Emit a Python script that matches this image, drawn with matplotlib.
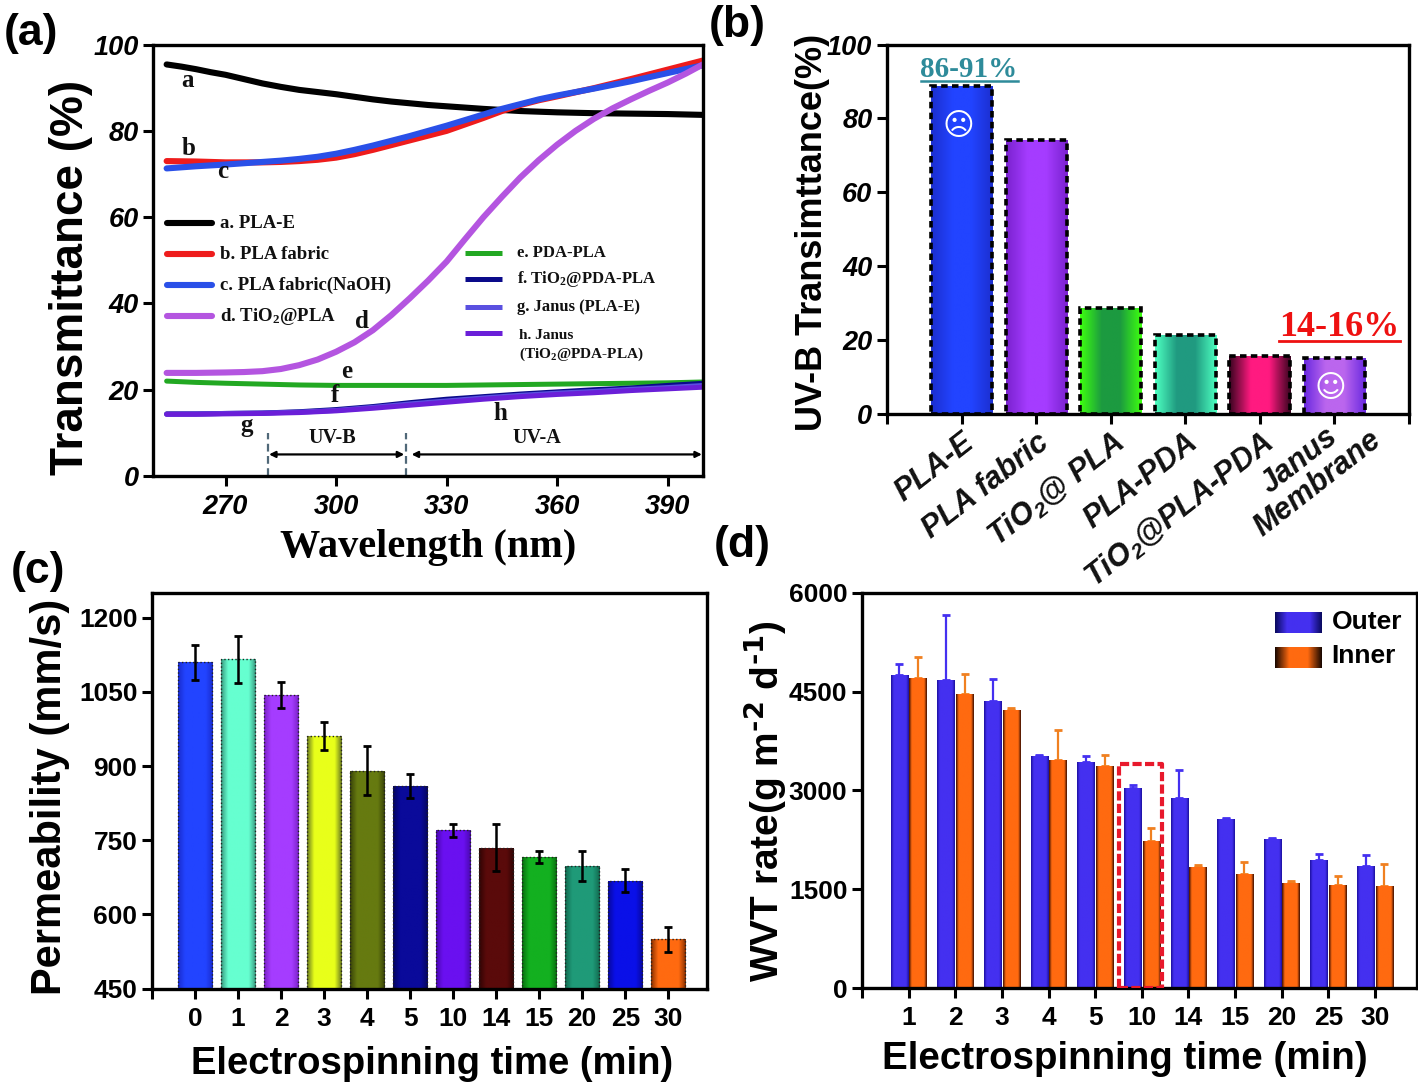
import numpy as np
import matplotlib
matplotlib.use("Agg")
import matplotlib.pyplot as plt
from matplotlib.colors import LinearSegmentedColormap
from matplotlib.transforms import ScaledTranslation

W, H = 1418, 1085

# panel a
wl = [254, 262, 270, 280, 290, 300, 310, 320, 330, 340, 350, 360, 370, 380, 390, 400]
wl_e = [254, 258, 262, 266, 270, 275, 280, 285, 290, 295, 300, 305, 310, 315, 320, 325, 330, 340, 350, 360, 370, 380, 390, 400]
pla_e = [95.4, 94.9, 94.3, 93.6, 93.0, 92.0, 91.0, 90.2, 89.5, 89.0, 88.5, 87.9, 87.3, 86.8, 86.4, 86.0, 85.7, 85.1, 84.6, 84.3, 84.1, 84.0, 83.9, 83.7]
wl_f = [254, 262, 270, 280, 285, 290, 295, 300, 305, 310, 315, 320, 325, 330, 335, 340, 345, 350, 355, 360, 370, 380, 390, 400]
pla_fabric = [73.0, 72.9, 72.7, 72.7, 72.8, 73.0, 73.3, 73.8, 74.6, 75.6, 76.7, 77.8, 78.9, 80.0, 81.5, 83.0, 84.6, 86.0, 87.1, 88.0, 89.9, 92.0, 94.2, 96.4]
pla_naoh = [71.3, 71.8, 72.2, 72.8, 73.1, 73.5, 74.0, 74.7, 75.6, 76.6, 77.7, 78.8, 80.0, 81.2, 82.5, 83.8, 85.1, 86.2, 87.3, 88.2, 89.8, 91.5, 93.4, 95.3]
wl_d = [254, 262, 270, 275, 280, 285, 290, 295, 300, 305, 310, 315, 320, 325, 330, 335, 340, 345, 350, 355, 360, 365, 370, 375, 380, 385, 390, 395, 400]
tio2_pla = [23.9, 23.9, 24.0, 24.1, 24.3, 24.8, 25.7, 27.0, 28.8, 31.0, 33.8, 37.3, 41.2, 45.3, 49.7, 54.9, 60.0, 64.7, 69.2, 73.2, 76.8, 80.0, 82.8, 85.2, 87.3, 89.3, 91.2, 93.3, 95.6]
pda_pla = [22.0, 21.7, 21.5, 21.3, 21.1, 21.0, 21.0, 21.0, 21.0, 21.1, 21.2, 21.3, 21.4, 21.5, 21.6, 21.8]
tio2_pda = [14.4, 14.4, 14.5, 14.6, 14.9, 15.4, 16.1, 17.0, 17.8, 18.4, 19.0, 19.5, 20.0, 20.4, 21.0, 21.5]
janus_e = [14.3, 14.4, 14.5, 14.6, 14.8, 15.2, 15.9, 16.7, 17.4, 18.1, 18.7, 19.2, 19.6, 20.1, 20.5, 21.0]
janus_h = [14.3, 14.3, 14.4, 14.5, 14.7, 15.1, 15.7, 16.4, 17.1, 17.8, 18.4, 18.9, 19.3, 19.8, 20.2, 20.6]

# panel b
b_labels = ["PLA-E", "PLA fabric", "TiO$_2$@ PLA", "PLA-PDA", "TiO$_2$@PLA-PDA", "Janus\nMembrane"]
b_values = [88.7, 74.2, 28.7, 21.4, 15.7, 15.2]
b_edge = ["#1c2fd0", "#7a22d0", "#3dff10", "#4dffc0", "#3a0420", "#6a2ae0"]
b_mid = ["#2244ff", "#a53cff", "#1c9a40", "#209a80", "#ff1a80", "#bb66ee"]

# panel c
c_labels = ["0", "1", "2", "3", "4", "5", "10", "14", "15", "20", "25", "30"]
c_values = [1110, 1116, 1044, 961, 891, 860, 770, 735, 716, 698, 668, 550]
c_err = [35, 48, 27, 29, 49, 25, 13, 48, 12, 31, 23, 25]
c_edge = ["#1a2cd0", "#3a9a80", "#7a22c8", "#6a7a20", "#3a4408", "#060660", "#4a08b0", "#300404", "#0a7010", "#126a50", "#0808a0", "#8a3000"]
c_mid = ["#2244ff", "#66ffd0", "#a53cff", "#e8ff1a", "#667a10", "#0a0a9a", "#6a10f0", "#5a0a0a", "#13b020", "#1f9a78", "#0a10e8", "#ff6a10"]

# panel d
d_labels = ["1", "2", "3", "4", "5", "10", "14", "15", "20", "25", "30"]
outer = [4749, 4677, 4361, 3528, 3436, 3033, 2880, 2563, 2267, 1945, 1848]
inner = [4703, 4463, 4223, 3462, 3375, 2226, 1833, 1731, 1593, 1568, 1552]
outer_err = [168, 990, 330, 15, 90, 50, 430, 15, 10, 85, 170]
inner_err = [320, 300, 25, 455, 160, 210, 30, 175, 25, 135, 335]

plt.rcParams["font.family"] = "Liberation Sans"
plt.rcParams["font.weight"] = "bold"
plt.rcParams["mathtext.default"] = "regular"

fig = plt.figure(figsize=(W / 100, H / 100), dpi=100)


def px_axes(left, top, right, bottom):
    ax = fig.add_axes([left / W, 1 - bottom / H, (right - left) / W, (bottom - top) / H])
    for s in ax.spines.values():
        s.set_linewidth(2.4)
    return ax


def px_text(x, y, s, **kw):
    kw.setdefault("ha", "center")
    kw.setdefault("va", "center")
    fig.text(x / W, 1 - y / H, s, **kw)


def grad_bar(ax, x, top, width, edge, mid, base=0, frac=0.2, **edge_kw):
    bar = ax.bar(x, top - base, width, bottom=base, color=mid, linewidth=0, zorder=2)[0]
    cmap = LinearSegmentedColormap.from_list("g", [(0, edge), (frac, mid), (1 - frac, mid), (1, edge)])
    im = ax.imshow(np.linspace(0, 1, 64).reshape(1, -1), extent=[x - width / 2, x + width / 2, base, top],
                   cmap=cmap, aspect="auto", zorder=2.1, interpolation="bilinear")
    im.set_clip_path(bar)
    if edge_kw:
        ax.bar(x, top - base, width, bottom=base, fill=False, zorder=2.2, **edge_kw)


# (a)
ax = px_axes(153, 44.6, 703, 476)
ax.plot(wl_e, pla_e, color="black", lw=4.4, solid_capstyle="round")
ax.plot(wl_f, pla_fabric, color="#ee1c1c", lw=4.4, solid_capstyle="round")
ax.plot(wl_f, pla_naoh, color="#2a50e8", lw=4.4, solid_capstyle="round")
ax.plot(wl_d, tio2_pla, color="#b455e0", lw=4.4, solid_capstyle="round")
ax.plot(wl, pda_pla, color="#22a822", lw=3.6, solid_capstyle="round")
ax.plot(wl, tio2_pda, color="#0a0a8a", lw=3.6, solid_capstyle="round")
ax.plot(wl, janus_e, color="#5a50e0", lw=3.6, solid_capstyle="round")
ax.plot(wl, janus_h, color="#6a1fd8", lw=3.6, solid_capstyle="round")
ax.set_xlim(250.3, 399.6)
ax.set_ylim(0, 100)
ax.set_xticks([270, 300, 330, 360, 390])
ax.set_yticks([0, 20, 40, 60, 80, 100])
ax.tick_params(length=7, width=2.2, pad=6)
ax.tick_params(axis="y", pad=3)
for t in ax.get_xticklabels():
    t.set(fontsize=19.5, style="italic", fontweight="bold")
for t in ax.get_yticklabels():
    t.set(fontsize=19.5, style="italic", fontweight="bold")

serif = dict(family="Liberation Serif", fontweight="bold", color="#111111")
for s, x, y in [("a", 259.8, 91.7), ("b", 260, 76), ("c", 269.3, 70.6), ("d", 307, 35.8),
                ("e", 303, 24.3), ("f", 299.7, 18.6), ("g", 275.6, 11.8), ("h", 344.7, 14.6)]:
    ax.text(x, y, s, fontsize=18, ha="center", va="center", **serif)

for s, c, y in [("a. PLA-E", "black", 58.6), ("b. PLA fabric", "#ee1c1c", 51.4),
                ("c. PLA fabric(NaOH)", "#2a50e8", 44.2), ("d. TiO$_2$@PLA", "#b455e0", 37.0)]:
    ax.plot([254, 266.3], [y, y], color=c, lw=4.4, solid_capstyle="round")
    ax.text(268.4, y, s, fontsize=13.5, va="center", **serif)
for s, c, y in [("e. PDA-PLA", "#22a822", 51.6), ("f. TiO$_2$@PDA-PLA", "#0a0a8a", 45.7),
                ("g. Janus (PLA-E)", "#5a50e0", 39.2)]:
    ax.plot([335, 345], [y, y], color=c, lw=3.6, solid_capstyle="butt")
    ax.text(349, y, s, fontsize=12, va="center", **serif)
ax.plot([335, 345], [33.2, 33.2], color="#6a1fd8", lw=3.6, solid_capstyle="butt")
ax.text(349.6, 32.5, "h. Janus", fontsize=11, va="center", **serif)
ax.text(349.6, 28.2, "(TiO$_2$@PDA-PLA)", fontsize=11, va="center", **serif)

for x in [281.6, 319]:
    ax.plot([x, x], [0, 10], color="#506878", lw=1.6, ls=(0, (3.5, 2)))
for x0, x1 in [(281.8, 318.5), (320.5, 399.3)]:
    ax.annotate("", xy=(x1, 5), xytext=(x0, 5), arrowprops=dict(arrowstyle="<|-|>", color="black", lw=1.6, mutation_scale=9, shrinkA=0, shrinkB=0))
ax.text(299, 8.7, "UV-B", fontsize=14.5, ha="center", va="center", **serif)
ax.text(354.5, 8.7, "UV-A", fontsize=14.5, ha="center", va="center", **serif)

px_text(71, 277, "Transmittance (%)", fontsize=33, rotation=90)
px_text(428, 548, "Wavelength (nm)", fontsize=29, family="Liberation Serif", fontweight="bold")
px_text(31, 34, "(a)", fontsize=32)

# (b)
ax = px_axes(887, 44.6, 1409, 413.6)
bx = np.arange(1, len(b_values) + 1)
for x, v, e, m in zip(bx, b_values, b_edge, b_mid):
    grad_bar(ax, x, v, 0.82, e, m, frac=0.35, edgecolor="black", linewidth=2.6, linestyle=(0, (1.8, 1.2)))
ax.set_xlim(0, 7)
ax.set_ylim(0, 100)
ax.set_xticks(list(range(0, 8)))
ax.set_xticklabels([""] + b_labels + [""], fontsize=22, style="italic", rotation=38, ha="right",
                   rotation_mode="anchor", multialignment="center", linespacing=1.0, color="#111111")
ax.set_yticks([0, 20, 40, 60, 80, 100])
ax.tick_params(length=7, width=2.2)
ax.tick_params(axis="x", pad=3)
for t in ax.get_yticklabels():
    t.set(fontsize=19.5, style="italic", fontweight="bold")
# the two line label sits further right and higher than the others
janus = ax.get_xticklabels()[6]
janus.set_transform(janus.get_transform() + ScaledTranslation(0.16, 0.26, fig.dpi_scale_trans))

ax.text(1.1, 93.2, "86-91%", fontsize=21, color="#2e8b9a", ha="center", va="center", family="Liberation Serif", fontweight="bold")
ax.plot([0.45, 1.76], [90, 90], color="#2e8b9a", lw=1.8)
ax.text(6.07, 23.3, "14-16%", fontsize=26, color="#ee1111", ha="center", va="center", family="Liberation Serif", fontweight="bold")
ax.plot([5.26, 6.88], [19.6, 19.6], color="#ee1111", lw=2)
ax.text(0.96, 77.8, "\u2639", fontsize=22, color="white", ha="center", va="center", family="DejaVu Sans", fontweight="normal", zorder=5)
ax.text(5.95, 6.8, "\u263a", fontsize=22, color="white", ha="center", va="center", family="DejaVu Sans", fontweight="normal", zorder=5)

px_text(813, 232, "UV-B Transimttance(%)", fontsize=26, rotation=90)
px_text(737, 25, "(b)", fontsize=32)

# (c)
ax = px_axes(152, 592.6, 707, 988.6)
cx = np.arange(1, len(c_values) + 1)
for x, v, e, m in zip(cx, c_values, c_edge, c_mid):
    grad_bar(ax, x, v, 0.8, e, m, base=450, edgecolor="#222222", linewidth=1, linestyle=":")
ax.errorbar(cx, c_values, yerr=c_err, fmt="none", ecolor="black", elinewidth=1.8, capsize=3, capthick=2, zorder=4)
ax.set_xlim(0, 12.9)
ax.set_ylim(450, 1251)
ax.set_xticks(list(range(0, 13)))
ax.set_xticklabels([""] + c_labels, fontsize=19)
ax.set_yticks([450, 600, 750, 900, 1050, 1200])
ax.tick_params(length=7, width=2.2, labelsize=19)
ax.tick_params(axis="x", pad=6)

px_text(50, 797, "Permeability (mm/s)", fontsize=30, rotation=90)
px_text(432, 1064, "Electrospinning time (min)", fontsize=27.5)
px_text(38, 572, "(c)", fontsize=32)

# (d)
ax = px_axes(862, 592.7, 1417, 988)
dx = np.arange(1, len(outer) + 1)
for x, a, b in zip(dx, outer, inner):
    grad_bar(ax, x - 0.2, a, 0.37, "#1c10a0", "#4430f0", frac=0.15)
    grad_bar(ax, x + 0.2, b, 0.37, "#401000", "#ff6a10", frac=0.15)
ax.errorbar(dx - 0.2, outer, yerr=[[0] * len(outer), outer_err], fmt="none", ecolor="#4430f0", elinewidth=1.6, capsize=3, capthick=2, zorder=1.5)
ax.errorbar(dx + 0.2, inner, yerr=[[0] * len(inner), inner_err], fmt="none", ecolor="#f08020", elinewidth=1.6, capsize=3, capthick=2, zorder=1.5)
ax.plot([5.51, 5.51, 6.44, 6.44, 5.51], [0, 3405, 3405, 0, 0], color="#e8192c", lw=3, ls=(0, (2.2, 0.8)), zorder=4)
grad_bar(ax, 9.36, 5703, 1.0, "#0a0a60", "#4430f0", base=5381, frac=0.25)
grad_bar(ax, 9.36, 5183, 1.0, "#1a0800", "#ff6a10", base=4862, frac=0.3)
ax.text(10.07, 5550, "Outer", fontsize=19, va="center")
ax.text(10.07, 5040, "Inner", fontsize=19, va="center")
ax.set_xlim(0, 11.9)
ax.set_ylim(0, 6000)
ax.set_xticks(list(range(0, 12)))
ax.set_xticklabels([""] + d_labels, fontsize=19)
ax.set_yticks([0, 1500, 3000, 4500, 6000])
ax.tick_params(length=7, width=2.2, labelsize=19)
ax.tick_params(axis="x", pad=6)

px_text(765, 801, "WVT rate(g m$^{\\text{-2}}$ d$^{\\text{-1}}$)", fontsize=28, rotation=90)
px_text(1125, 1059, "Electrospinning time (min)", fontsize=27.7)
px_text(742, 546, "(d)", fontsize=32)

fig.savefig("out.png", dpi=100)
